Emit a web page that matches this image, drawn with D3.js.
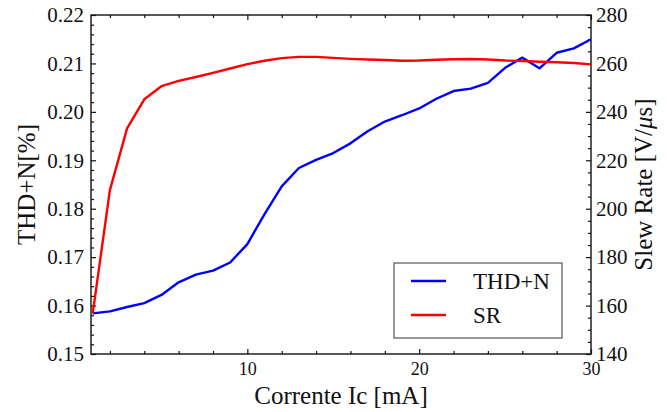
<html>
<head>
  <title>THD+N e Slew Rate</title>
  <script src="https://d3js.org/d3.v7.min.js"></script>
  <style>
    body {
      margin: 0;
      background: #fff;
      font-family: "Liberation Serif", "Times New Roman", serif;
    }
    text {
      fill: #111;
    }
    .axis text {
      font-family: "Liberation Serif", "Times New Roman", serif;
    }
    .y text, .y2 text {
      font-size: 21px;
    }
    .x text {
      font-size: 18px;
    }
  </style>
</head>
<body>
  <div id="graphArea"></div>
  <script>
    // corrente di collettore [mA]
    var current = [1, 2, 3, 4, 5, 6, 7, 8, 9, 10, 11, 12, 13, 14, 15,
      16, 17, 18, 19, 20, 21, 22, 23, 24, 25, 26, 27, 28, 29, 30];
    // THD+N [%]
    var thd = [0.1584, 0.1588, 0.1597, 0.1605, 0.1622, 0.1648, 0.1664, 0.1672, 0.1689, 0.1727,
      0.1789, 0.1846, 0.1884, 0.1901, 0.1915, 0.1935, 0.1960, 0.1980, 0.1993, 0.2007,
      0.2027, 0.2043, 0.2048, 0.2060, 0.2091, 0.2112, 0.2090, 0.2122, 0.2131, 0.2150];
    // slew rate [V/us]
    var sr = [156.8, 207.7, 233.2, 245.2, 250.6, 252.8, 254.4, 256.1, 257.9, 259.7,
      261.1, 262.2, 262.7, 262.7, 262.3, 261.9, 261.6, 261.4, 261.1, 261.2,
      261.5, 261.7, 261.8, 261.6, 261.2, 261.0, 260.7, 260.5, 260.2, 259.6];

    var xTicks = [10, 20, 30];
    var xMinor = [2, 4, 6, 8, 12, 14, 16, 18, 22, 24, 26, 28];
    var leftTicks = [0.15, 0.16, 0.17, 0.18, 0.19, 0.20, 0.21, 0.22];
    var rightTicks = [140, 160, 180, 200, 220, 240, 260, 280];

    var seriesNames = ["THD+N", "SR"];
    var seriesColors = ["#0000ff", "#ff0000"];

    var W = 667, H = 412;
    var box = { left: 91, right: 591, top: 15, bottom: 354 };
    var serif = "Liberation Serif, Times New Roman, serif";

    var svg = d3.select("#graphArea").append("svg")
      .attr("width", W)
      .attr("height", H)
      .attr("font-family", serif);

    var x = d3.scaleLinear().domain([0.9, 30]).range([box.left, box.right]);
    var yL = d3.scaleLinear().domain([0.15, 0.22]).range([box.bottom, box.top]);
    var yR = d3.scaleLinear().domain([140, 280]).range([box.bottom, box.top]);

    // minor ticks: everything in between the labelled ones
    var leftMinor = d3.range(0, 36).map(function(i) { return +(0.15 + i * 0.002).toFixed(3); })
      .filter(function(v) { return Math.round(v * 1000) % 10 !== 0; });
    var rightMinor = d3.range(140, 281, 5).filter(function(v) { return v % 20 !== 0; });

    function tickAxis(gen, pos, values, len, fmt, cls, fsize) {
      var g = svg.append("g")
        .attr("class", cls)
        .attr("transform", pos)
        .call(gen.tickValues(values).tickSize(len).tickSizeOuter(0).tickFormat(fmt));
      g.attr("font-family", serif).attr("font-size", fsize || 10);
      g.select(".domain").remove();
      g.selectAll("line").attr("stroke", "#111").attr("stroke-width", 1.2);
      return g;
    }

    var none = function() { return ""; };

    // bottom
    tickAxis(d3.axisBottom(x), "translate(0," + box.bottom + ")", xMinor, -3, none, "xminor");
    var xb = tickAxis(d3.axisBottom(x), "translate(0," + box.bottom + ")", xTicks, -5, d3.format("d"), "x axis", 18);
    xb.selectAll("text").attr("y", 8).attr("dy", "0.71em");
    // top mirror
    tickAxis(d3.axisTop(x), "translate(0," + box.top + ")", xMinor, -3, none, "xtop");
    tickAxis(d3.axisTop(x), "translate(0," + box.top + ")", xTicks, -5, none, "xtop");

    // left
    tickAxis(d3.axisLeft(yL), "translate(" + box.left + ",0)", leftMinor, -3, none, "yminor");
    var yl = tickAxis(d3.axisLeft(yL), "translate(" + box.left + ",0)", leftTicks, -5, d3.format(".2f"), "y axis", 21);
    yl.selectAll("text").attr("x", -7);

    // right
    tickAxis(d3.axisRight(yR), "translate(" + box.right + ",0)", rightMinor, -3, none, "rminor");
    var yr = tickAxis(d3.axisRight(yR), "translate(" + box.right + ",0)", rightTicks, -5, d3.format("d"), "y2 axis", 21);
    yr.selectAll("text").attr("x", 5);

    // frame
    svg.append("rect")
      .attr("x", box.left)
      .attr("y", box.top)
      .attr("width", box.right - box.left)
      .attr("height", box.bottom - box.top)
      .attr("fill", "none")
      .attr("stroke", "#111")
      .attr("stroke-width", 1.4);

    var thdLine = d3.line()
      .x(function(d, i) { return x(current[i]); })
      .y(function(d) { return yL(d); });
    var srLine = d3.line()
      .x(function(d, i) { return x(current[i]); })
      .y(function(d) { return yR(d); });

    svg.append("path")
      .attr("d", thdLine(thd))
      .attr("fill", "none")
      .attr("stroke", seriesColors[0])
      .attr("stroke-width", 2.4)
      .attr("stroke-linejoin", "round");

    svg.append("path")
      .attr("d", srLine(sr))
      .attr("fill", "none")
      .attr("stroke", seriesColors[1])
      .attr("stroke-width", 2.4)
      .attr("stroke-linejoin", "round");

    // axis titles
    svg.append("text")
      .attr("x", (box.left + box.right) / 2)
      .attr("y", 404)
      .attr("text-anchor", "middle")
      .attr("font-size", 25)
      .text("Corrente Ic [mA]");

    svg.append("text")
      .attr("transform", "translate(35," + (box.top + box.bottom) / 2 + ") rotate(-90)")
      .attr("text-anchor", "middle")
      .attr("font-size", 25)
      .text("THD+N[%]");

    var rt = svg.append("text")
      .attr("transform", "translate(652," + (box.top + box.bottom) / 2 + ") rotate(-90)")
      .attr("text-anchor", "middle")
      .attr("font-size", 25);
    rt.append("tspan").text("Slew Rate [V/");
    rt.append("tspan").attr("font-style", "italic").text("\u03bc");
    rt.append("tspan").text("s]");

    // legend
    var lg = svg.append("g").attr("transform", "translate(394,263)");
    lg.append("rect")
      .attr("width", 168)
      .attr("height", 75)
      .attr("fill", "#fff")
      .attr("stroke", "#555")
      .attr("stroke-width", 1.2);
    seriesNames.forEach(function(name, i) {
      var yy = 18 + i * 34;
      lg.append("line")
        .attr("x1", 17).attr("x2", 52)
        .attr("y1", yy).attr("y2", yy)
        .attr("stroke", seriesColors[i])
        .attr("stroke-width", 2.4);
      lg.append("text")
        .attr("x", 79)
        .attr("y", yy + 8)
        .attr("font-size", 23)
        .text(name);
    });
  </script>
</body>
</html>
